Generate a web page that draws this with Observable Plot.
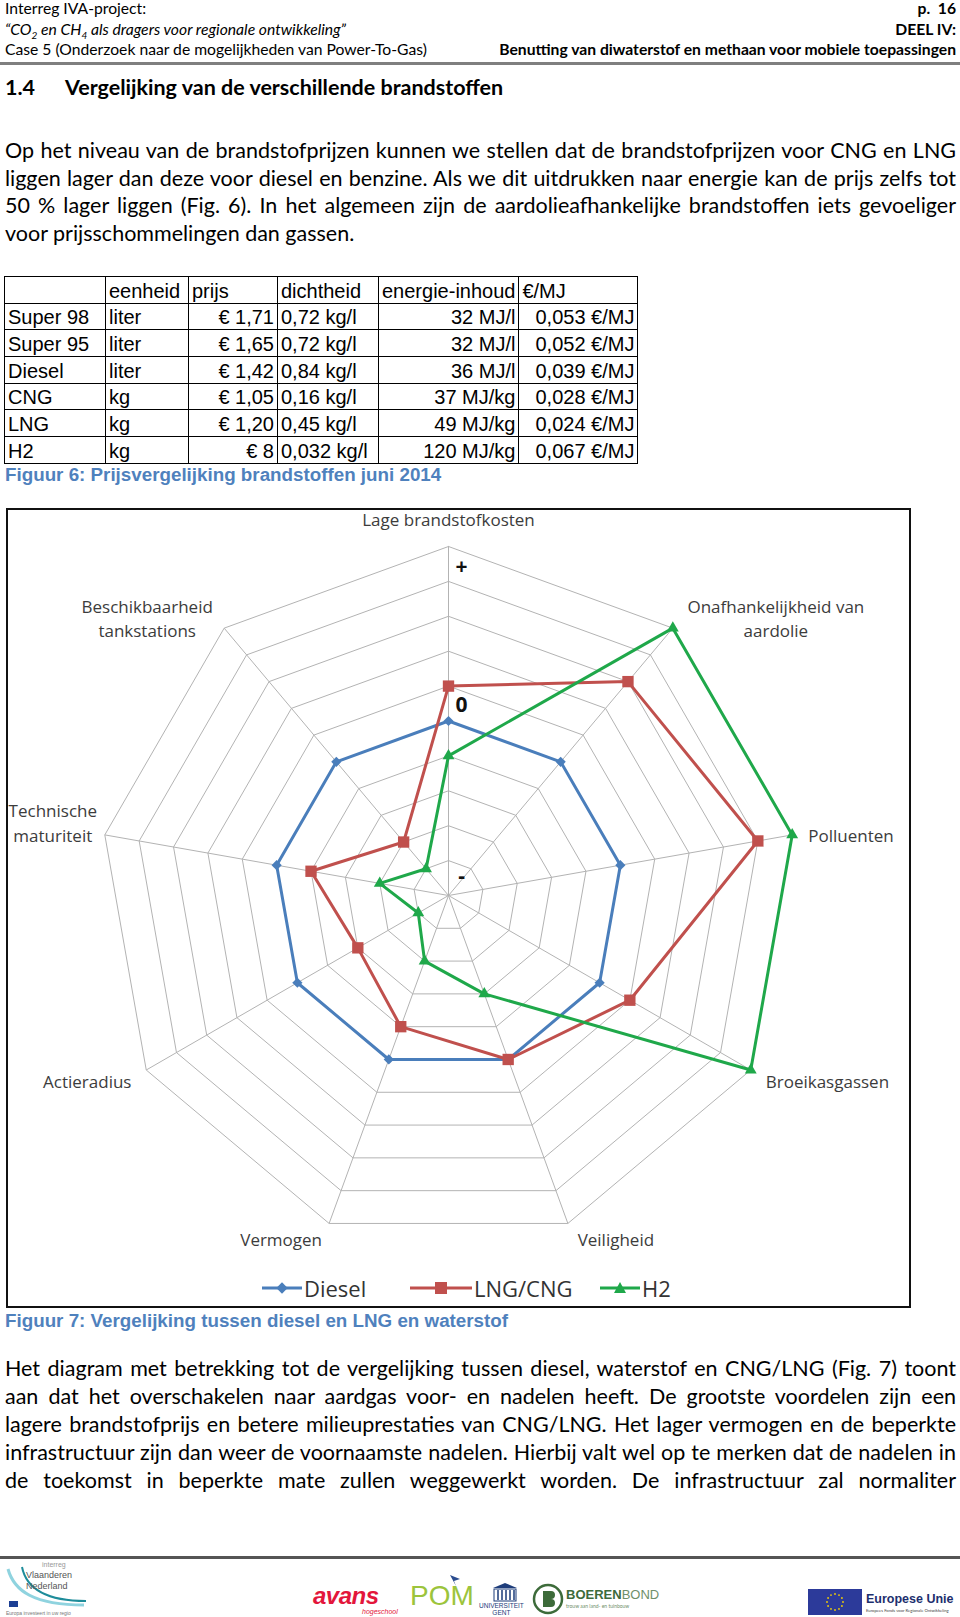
<!DOCTYPE html>
<html>
<head>
<meta charset="utf-8">
<script src="https://cdn.jsdelivr.net/npm/d3@7"></script>
<script src="https://cdn.jsdelivr.net/npm/@observablehq/plot@0.6"></script>
<style>
  html, body { margin: 0; padding: 0; background: #fff; }
  #page { position: relative; width: 960px; height: 1617px; overflow: hidden; font-family: Lato, "Open Sans", sans-serif; color: #000; }
  .abs { position: absolute; white-space: nowrap; }
  .hdr { font-size: 15.7px; line-height: 20px; }
  .b { font-weight: bold; }
  .line { position: absolute; left: 5px; width: 951px; font-size: 19px; line-height: 28px; white-space: nowrap; text-align: justify; text-align-last: justify; }
  .line.last { text-align: left; text-align-last: left; }
  table.fuel { position: absolute; left: 4px; top: 276px; border-collapse: collapse; font-family: "Liberation Sans", Arial, sans-serif; font-size: 20px; table-layout: fixed; }
  table.fuel td { border: 1.5px solid #000; height: 26.7px; padding: 0 3px; box-sizing: border-box; line-height: 24px; white-space: nowrap; overflow: hidden; vertical-align: bottom; }
  table.fuel td.r { text-align: right; }
  .cap { position: absolute; left: 5px; font-family: "Liberation Sans", Arial, sans-serif; font-weight: bold; font-size: 18.8px; line-height: 22px; color: #4f81bd; white-space: nowrap; }
  #chartbox { position: absolute; left: 6px; top: 508px; width: 905px; height: 800px; border: 2px solid #111; box-sizing: border-box; background: #fff; }
  #legend { position: absolute; top: 760px; left: 0; width: 100%; height: 36px; font-family: "Open Sans", sans-serif; font-size: 22px; color: #333; }
  .lg { position: absolute; top: 0; height: 36px; display: flex; align-items: center; }
</style>
</head>
<body>
<div id="page">
  <!-- header -->
  <div class="abs hdr" style="left:5px; top:-2px;">Interreg IVA-project:</div>
  <div class="abs hdr b" style="right:4px; top:-2px;">p.&nbsp; 16</div>
  <div class="abs hdr" style="left:5px; top:18.5px; font-style:italic;">“CO<sub style="font-size:10px">2</sub> en CH<sub style="font-size:10px">4</sub> als dragers voor regionale ontwikkeling”</div>
  <div class="abs hdr b" style="right:4px; top:18.5px;">DEEL IV:</div>
  <div class="abs hdr" style="left:5px; top:39px;">Case 5 (Onderzoek naar de mogelijkheden van Power-To-Gas)</div>
  <div class="abs hdr b" style="right:4px; top:39px;">Benutting van diwaterstof en methaan voor mobiele toepassingen</div>
  <div class="abs" style="left:0; top:62px; width:960px; height:3px; background:#7f7f7f;"></div>

  <div class="abs b" style="left:5px; top:74px; font-size:21.5px; line-height:27px;">1.4</div>
  <div class="abs b" style="left:65px; top:74px; font-size:21.5px; line-height:27px;">Vergelijking van de verschillende brandstoffen</div>

  <div class="line" style="top:136px;">Op het niveau van de brandstofprijzen kunnen we stellen dat de brandstofprijzen voor CNG en LNG</div>
  <div class="line" style="top:163.5px;">liggen lager dan deze voor diesel en benzine. Als we dit uitdrukken naar energie kan de prijs zelfs tot</div>
  <div class="line" style="top:191px;">50 % lager liggen (Fig. 6). In het algemeen zijn de aardolieafhankelijke brandstoffen iets gevoeliger</div>
  <div class="line last" style="top:219px;">voor prijsschommelingen dan gassen.</div>

  <div id="tablehost"></div>
  <div class="cap" style="top:464px;">Figuur 6: Prijsvergelijking brandstoffen juni 2014</div>

  <div id="chartbox">
    <div id="plot"></div>
    <div id="legend"></div>
  </div>
  <div class="cap" style="top:1310px;">Figuur 7: Vergelijking tussen diesel en LNG en waterstof</div>

  <div class="line" style="top:1354px;">Het diagram met betrekking tot de vergelijking tussen diesel, waterstof en CNG/LNG (Fig. 7) toont</div>
  <div class="line" style="top:1382px;">aan dat het overschakelen naar aardgas voor- en nadelen heeft. De grootste voordelen zijn een</div>
  <div class="line" style="top:1410px;">lagere brandstofprijs en betere milieuprestaties van CNG/LNG. Het lager vermogen en de beperkte</div>
  <div class="line" style="top:1438px;">infrastructuur zijn dan weer de voornaamste nadelen. Hierbij valt wel op te merken dat de nadelen in</div>
  <div class="line" style="top:1466px;">de toekomst in beperkte mate zullen weggewerkt worden. De infrastructuur zal normaliter</div>

  <!-- footer -->
  <div class="abs" style="left:0; top:1556px; width:960px; height:3px; background:#555;"></div>
  <div id="footer"></div>
</div>

<script>
// ---------- DATA ----------
const tableHeader = ["", "eenheid", "prijs", "dichtheid", "energie-inhoud", "€/MJ"];
const fuels = ["Super 98", "Super 95", "Diesel", "CNG", "LNG", "H2"];
const units = ["liter", "liter", "liter", "kg", "kg", "kg"];
const prices = ["€ 1,71", "€ 1,65", "€ 1,42", "€ 1,05", "€ 1,20", "€ 8"];
const densities = ["0,72 kg/l", "0,72 kg/l", "0,84 kg/l", "0,16 kg/l", "0,45 kg/l", "0,032 kg/l"];
const energies = ["32 MJ/l", "32 MJ/l", "36 MJ/l", "37 MJ/kg", "49 MJ/kg", "120 MJ/kg"];
const costPerMJ = ["0,053 €/MJ", "0,052 €/MJ", "0,039 €/MJ", "0,028 €/MJ", "0,024 €/MJ", "0,067 €/MJ"];

const axes = [
  "Lage brandstofkosten",
  "Onafhankelijkheid van\naardolie",
  "Polluenten",
  "Broeikasgassen",
  "Veiligheid",
  "Vermogen",
  "Actieradius",
  "Technische\nmaturiteit",
  "Beschikbaarheid\ntankstations"
];
const series = ["Diesel", "LNG/CNG", "H2"];
const diesel = [5, 5, 5, 5, 5, 5, 5, 5, 5];
const lngCng = [6, 8, 9, 6, 5, 4, 3, 4, 2];
const h2 = [4, 10, 10, 10, 3, 2, 1, 2, 1];
const gridLevels = [1, 2, 3, 4, 5, 6, 7, 8, 9, 10];
const scaleLabels = ["-", "0", "+"];
const scaleLabelValues = [0.55, 5.45, 9.4];

// ---------- STYLE / LAYOUT ----------
const seriesColors = ["#4a7ebb", "#c0504d", "#1fa84a"];
const seriesSymbols = ["diamond2", "square", "triangle"];
const seriesR = [4.6, 6.4, 4.4];
const W = 901, H = 756;          // svg size inside the box
const cx = 440, cy = 385;        // centre of the radar in svg pixels
const unit = 34.9;               // pixels per value step
const labelLayout = [
  {dx: 0, dy: -28, anchor: "middle"},
  {dx: 103, dy: -11, anchor: "middle"},
  {dx: 16, dy: -1, anchor: "start"},
  {dx: 15, dy: 10, anchor: "start"},
  {dx: 48, dy: 15, anchor: "middle"},
  {dx: -48, dy: 15, anchor: "middle"},
  {dx: -59, dy: 10, anchor: "middle"},
  {dx: -52, dy: -13, anchor: "middle"},
  {dx: -77, dy: -11, anchor: "middle"}
];

// ---------- BODY TEXT FIT ----------
(function fitBody() {
  const lines = Array.from(document.querySelectorAll(".line:not(.last)"));
  const probe = document.createElement("span");
  probe.style.cssText = "position:absolute;visibility:hidden;white-space:nowrap;font-family:Lato;font-size:19px;";
  document.body.appendChild(probe);
  let maxW = 0;
  lines.forEach(l => { probe.textContent = l.textContent; maxW = Math.max(maxW, probe.getBoundingClientRect().width); });
  probe.remove();
  const size = Math.min(21.5, 19 * 945 / maxW);
  document.querySelectorAll(".line").forEach(l => l.style.fontSize = size + "px");
})();

// ---------- TABLE ----------
(function buildTable() {
  const widths = [101, 83, 89, 101, 137, 119];
  const align = ["l", "l", "r", "l", "r", "r"];
  const cols = [fuels, units, prices, densities, energies, costPerMJ];
  let html = '<table class="fuel"><colgroup>' + widths.map(w => `<col style="width:${w}px">`).join("") + '</colgroup>';
  html += "<tr>" + tableHeader.map(h => `<td>${h}</td>`).join("") + "</tr>";
  fuels.forEach((f, r) => {
    html += "<tr>" + cols.map((c, j) => `<td class="${align[j] === "r" ? "r" : ""}">${c[r]}</td>`).join("") + "</tr>";
  });
  html += "</table>";
  document.getElementById("tablehost").innerHTML = html;
})();

// ---------- RADAR ----------
const n = axes.length;
const ang = i => (i * 2 * Math.PI) / n;
const px = (v, i) => v * Math.sin(ang(i));
const py = (v, i) => v * Math.cos(ang(i));

const ringPts = gridLevels.flatMap(level =>
  d3.range(n + 1).map(k => ({level, x: px(level, k % n), y: py(level, k % n)}))
);
const spokes = axes.map((a, i) => ({x2: px(10, i), y2: py(10, i)}));
const valuesBySeries = [diesel, lngCng, h2];
const seriesPts = series.map((s, si) =>
  d3.range(n + 1).map(k => ({series: s, x: px(valuesBySeries[si][k % n], k % n), y: py(valuesBySeries[si][k % n], k % n)}))
);

const xDomain = [-cx / unit, (W - cx) / unit];
const yDomain = [-(H - cy) / unit, cy / unit];

const marks = [
  Plot.link(spokes, {x1: 0, y1: 0, x2: "x2", y2: "y2", stroke: "#b3b3b3", strokeWidth: 1}),
  Plot.line(ringPts, {x: "x", y: "y", z: "level", stroke: "#b3b3b3", strokeWidth: 1, curve: "linear-closed"})
];
series.forEach((s, si) => {
  marks.push(Plot.line(seriesPts[si], {x: "x", y: "y", stroke: seriesColors[si], strokeWidth: 3, strokeLinejoin: "miter"}));
  marks.push(Plot.dot(seriesPts[si].slice(0, n), {x: "x", y: "y", symbol: seriesSymbols[si], r: seriesR[si], fill: seriesColors[si], stroke: "none"}));
});
marks.push(Plot.text(scaleLabels.map((t, i) => ({t, y: scaleLabelValues[i]})), {
  x: 0, y: "y", text: "t", dx: 13, fontSize: 21, fontWeight: "bold", fill: "#111", fontFamily: "Open Sans, sans-serif"
}));
axes.forEach((a, i) => {
  const L = labelLayout[i];
  marks.push(Plot.text([{t: a, x: px(10, i), y: py(10, i)}], {
    x: "x", y: "y", text: "t", dx: L.dx, dy: L.dy, textAnchor: L.anchor, lineHeight: 1.45,
    fontSize: 17, fill: "#3c3c3c", fontFamily: "Open Sans, sans-serif"
  }));
});

const chart = Plot.plot({
  width: W, height: H, margin: 0,
  x: {domain: xDomain, axis: null},
  y: {domain: yDomain, axis: null},
  style: {background: "transparent", overflow: "visible"},
  marks
});
document.getElementById("plot").appendChild(chart);

// ---------- LEGEND ----------
(function legend() {
  const items = [
    {left: 254, lineW: 40, text: "Diesel"},
    {left: 402, lineW: 62, text: "LNG/CNG"},
    {left: 592, lineW: 40, text: "H2"}
  ];
  const shapes = [
    c => `<rect x="-4" y="-4" width="8" height="8" transform="rotate(45)" fill="${c}"/>`,
    c => `<rect x="-6" y="-6" width="12" height="12" fill="${c}"/>`,
    c => `<path d="M0,-6 L6,5 L-6,5 Z" fill="${c}"/>`
  ];
  const el = document.getElementById("legend");
  el.innerHTML = items.map((it, i) => `
    <div class="lg" style="left:${it.left}px">
      <svg width="${it.lineW}" height="20" style="overflow:visible">
        <line x1="0" y1="10" x2="${it.lineW}" y2="10" stroke="${seriesColors[i]}" stroke-width="3"/>
        <g transform="translate(${it.lineW / 2},10)">${shapes[i](seriesColors[i])}</g>
      </svg>
      <span style="margin-left:2px">${series[i]}</span>
    </div>`).join("");
})();

// ---------- FOOTER LOGOS ----------
document.getElementById("footer").innerHTML = `
  <div class="abs" style="left:4px; top:1561px; width:90px; height:56px;">
    <svg width="90" height="56" style="position:absolute;left:0;top:0">
      <path d="M4,8 C10,30 30,44 80,44" stroke="#8fd3df" stroke-width="3" fill="none"/>
      <path d="M18,6 C22,26 40,40 82,40" stroke="#1e8c9a" stroke-width="2" fill="none"/>
      <rect x="5" y="40" width="9" height="6" fill="#1c3f94"/>
    </svg>
    <div class="abs" style="left:38px; top:0px; font-size:7px; line-height:8px; color:#999; font-family:'Liberation Sans'">interreg</div>
    <div class="abs" style="left:22px; top:9px; font-size:9px; line-height:10px; color:#555; font-family:'Liberation Sans'">Vlaanderen</div>
    <div class="abs" style="left:22px; top:20px; font-size:9px; line-height:10px; color:#555; font-family:'Liberation Sans'">Nederland</div>
    <div class="abs" style="left:2px; top:49px; font-size:5px; line-height:6px; color:#777; font-family:'Liberation Sans'">Europa investeert in uw regio</div>
  </div>
  <div class="abs" style="left:313px; top:1585px; font-family:'Liberation Sans'; font-weight:bold; font-style:italic; font-size:24px; line-height:22px; color:#e3163b; letter-spacing:-0.5px;">avans</div>
  <div class="abs" style="left:362px; top:1608px; font-family:'Liberation Sans'; font-style:italic; font-size:7px; line-height:8px; color:#e3163b;">hogeschool</div>
  <div class="abs" style="left:410px; top:1582px; font-family:'Liberation Sans'; font-size:28px; line-height:28px; color:#9cc43c;">POM</div>
  <svg class="abs" style="left:448px; top:1573px;" width="14" height="14"><path d="M2,2 L12,6 L6,8 L8,13 Z" fill="#2b4d8f"/></svg>
  <svg class="abs" style="left:490px; top:1582px;" width="30" height="20"><path d="M3,6 L15,1 L27,6 Z" fill="#1d3c7a"/><rect x="4" y="7" width="22" height="12" fill="none" stroke="#1d3c7a" stroke-width="1"/><path d="M8,8 V18 M12,8 V18 M16,8 V18 M20,8 V18 M24,8 V18" stroke="#1d3c7a" stroke-width="1.5"/></svg>
  <div class="abs" style="left:479px; top:1602px; font-family:'Liberation Sans'; font-size:6.5px; color:#1d3c7a; line-height:7px; text-align:center;">UNIVERSITEIT<br>GENT</div>
  <svg class="abs" style="left:532px; top:1583px;" width="32" height="32"><circle cx="16" cy="16" r="14" fill="none" stroke="#3d6b3a" stroke-width="2.5"/><path d="M11,8 H19 A4,4 0 0 1 19,16 A4,4 0 0 1 19,24 H11 Z" fill="#3d6b3a"/></svg>
  <div class="abs" style="left:566px; top:1587px; font-family:'Liberation Sans'; font-size:13px; line-height:15px; color:#3d6b3a;"><b>BOEREN</b><span style="color:#6f8f6a">BOND</span></div>
  <div class="abs" style="left:566px; top:1603px; font-size:5px; line-height:6px; color:#6f8f6a;">trouw aan land- en tuinbouw</div>
  <svg class="abs" style="left:808px; top:1589px;" width="54" height="26"><rect width="54" height="26" fill="#2c3a9a"/><g fill="#f5d000">${d3.range(12).map(k => `<circle cx="${27 + 8 * Math.cos(k * Math.PI / 6)}" cy="${13 + 8 * Math.sin(k * Math.PI / 6)}" r="0.9"/>`).join("")}</g></svg>
  <div class="abs" style="left:866px; top:1592px; font-family:'Liberation Sans'; font-weight:bold; font-size:12.5px; line-height:14px; color:#1d2f6e;">Europese Unie</div>
  <div class="abs" style="left:866px; top:1608px; font-size:4.2px; line-height:5px; color:#444;">Europees Fonds voor Regionale Ontwikkeling</div>
`;
</script>
</body>
</html>
